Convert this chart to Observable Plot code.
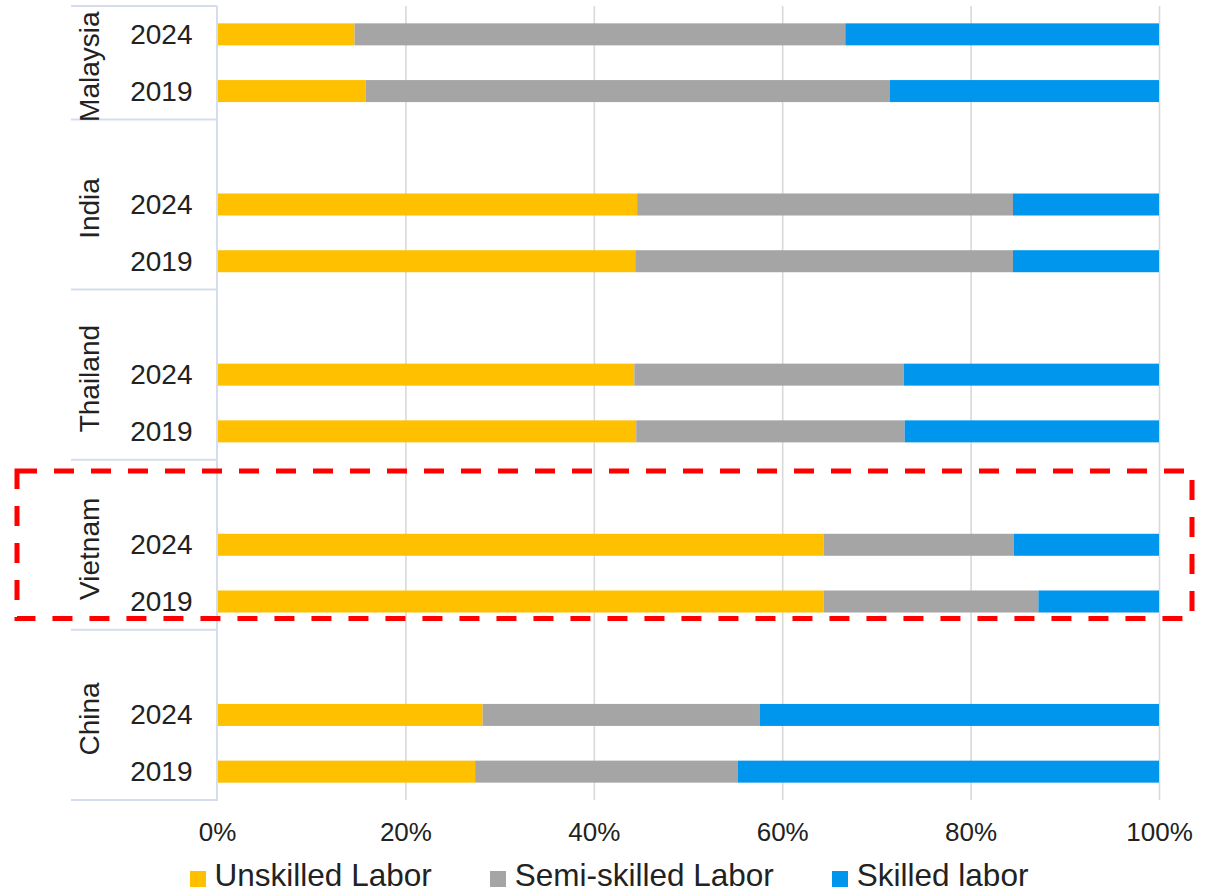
<!DOCTYPE html>
<html>
<head>
<meta charset="utf-8">
<script src="https://cdn.jsdelivr.net/npm/d3@7"></script>
<script src="https://cdn.jsdelivr.net/npm/@observablehq/plot@0.6"></script>
<style>
  html, body { margin: 0; padding: 0; background: #fff; }
  body { font-family: "Liberation Sans", Arial, sans-serif; color: #222; width: 1218px; }
  #legend { display: flex; justify-content: center; align-items: center; gap: 58px;
            font-size: 31.5px; height: 40px; line-height: 1; padding-top: 8px; box-sizing: border-box; }
  #legend .item { display: flex; align-items: center; }
  #legend .sw { width: 16px; height: 16px; margin-right: 9px; display: inline-block; position: relative; top: 3px; }
</style>
</head>
<body>
<div id="chart"></div>
<div id="legend"></div>
<script>
// ---- data ----
const countries = ["Malaysia", "India", "Thailand", "Vietnam", "China"];
const years = ["2024", "2019"];
const skills = ["Unskilled Labor", "Semi-skilled Labor", "Skilled labor"];
const colors = ["#FFC000", "#A5A5A5", "#0096EE"];
// rows in order: Malaysia 2024, Malaysia 2019, India 2024, India 2019, ...
const unskilled   = [14.6, 15.8, 44.6, 44.4, 44.3, 44.5, 64.4, 64.4, 28.2, 27.4];
const semiSkilled = [52.1, 55.6, 39.9, 40.1, 28.6, 28.5, 20.2, 22.8, 29.4, 27.9];
const skilled     = [33.3, 28.6, 15.5, 15.5, 27.1, 27.0, 15.4, 12.8, 42.4, 44.7];
const xTicks = [0, 20, 40, 60, 80, 100];
const highlight = "Vietnam";

(function () {
// ---- build table ----
const rows = [];
countries.forEach((c, ci) => years.forEach((yr, yi) => {
  const i = ci * years.length + yi;
  [unskilled[i], semiSkilled[i], skilled[i]].forEach((v, si) =>
    rows.push({country: c, year: yr, key: c + "|" + yr, skill: skills[si], value: v}));
}));
// y slots: a blank slot before every group but the first
const slots = [];
const groupSlots = {};
countries.forEach((c, ci) => {
  groupSlots[c] = [];
  if (ci > 0) { slots.push(c + "|"); groupSlots[c].push(c + "|"); }
  years.forEach(yr => { slots.push(c + "|" + yr); groupSlots[c].push(c + "|" + yr); });
});

const W = 1218, H = 852, mt = 6, mb = 52, ml = 217, mr = 59;
const pctFmt = d => d + "%";

const plot = Plot.plot({
  width: W, height: H,
  marginTop: mt, marginBottom: mb, marginLeft: ml, marginRight: mr,
  style: {fontFamily: "Liberation Sans, Arial, sans-serif", fontSize: "26px", color: "#222", background: "#fff", overflow: "visible"},
  x: {domain: [0, 100], ticks: xTicks, tickFormat: pctFmt, tickSize: 0, tickPadding: 22, label: null},
  y: {domain: slots, paddingInner: 0.612, paddingOuter: 0.306, round: false, axis: null},
  color: {domain: skills, range: colors},
  marks: [
    Plot.ruleX(xTicks.slice(1), {stroke: "#d9d9d9", strokeWidth: 1.6}),
    Plot.barX(rows, {x: "value", y: "key", fill: "skill"}),
    Plot.text(rows.filter(d => d.skill === skills[0]), {
      y: "key", text: "year", frameAnchor: "left", dx: -25, textAnchor: "end",
      fontSize: 28, fill: "#222"
    })
  ]
});
document.getElementById("chart").appendChild(plot);

// ---- group axis, separators and highlight derived from the y scale ----
const ys = plot.scale("y");
const step = ys.step, bw = ys.bandwidth;
const half = (step - bw) / 2;
const slotTop = k => ys.apply(k) - half;
const slotBottom = k => ys.apply(k) + bw + half;
const svg = d3.select(plot);
const axisColor = "#d5ddec";
const g = svg.append("g");
const yTop = slotTop(slots[0]), yBot = slotBottom(slots[slots.length - 1]);
g.append("line").attr("x1", ml).attr("x2", ml).attr("y1", yTop).attr("y2", yBot + 1)
  .attr("stroke", axisColor).attr("stroke-width", 2);
const bounds = [yTop];
countries.forEach(c => bounds.push(slotBottom(groupSlots[c][groupSlots[c].length - 1])));
bounds.forEach(b => g.append("line").attr("x1", ml - 146).attr("x2", ml).attr("y1", b).attr("y2", b)
  .attr("stroke", axisColor).attr("stroke-width", 2));
countries.forEach(c => {
  const s = groupSlots[c];
  const cy = (slotTop(s[0]) + slotBottom(s[s.length - 1])) / 2 + 4;
  g.append("text").attr("transform", `translate(${ml - 118},${cy}) rotate(-90)`)
    .attr("text-anchor", "middle").attr("font-size", 28).attr("fill", "#222").text(c);
});
// highlight box
{
  const s = groupSlots[highlight];
  const y0 = slotTop(s[0]) + 0.2 * step, y1 = slotBottom(s[s.length - 1]) - 0.2 * step;
  svg.append("rect").attr("x", 17).attr("y", y0).attr("width", W - 26 - 17).attr("height", y1 - y0)
    .attr("fill", "none").attr("stroke", "#ff0000").attr("stroke-width", 5)
    .attr("stroke-dasharray", "20 17");
}

// ---- legend ----
const legend = d3.select("#legend");
skills.forEach((s, i) => {
  const it = legend.append("div").attr("class", "item");
  it.append("span").attr("class", "sw").style("background", colors[i]);
  it.append("span").text(s);
});
})();
</script>
</body>
</html>
